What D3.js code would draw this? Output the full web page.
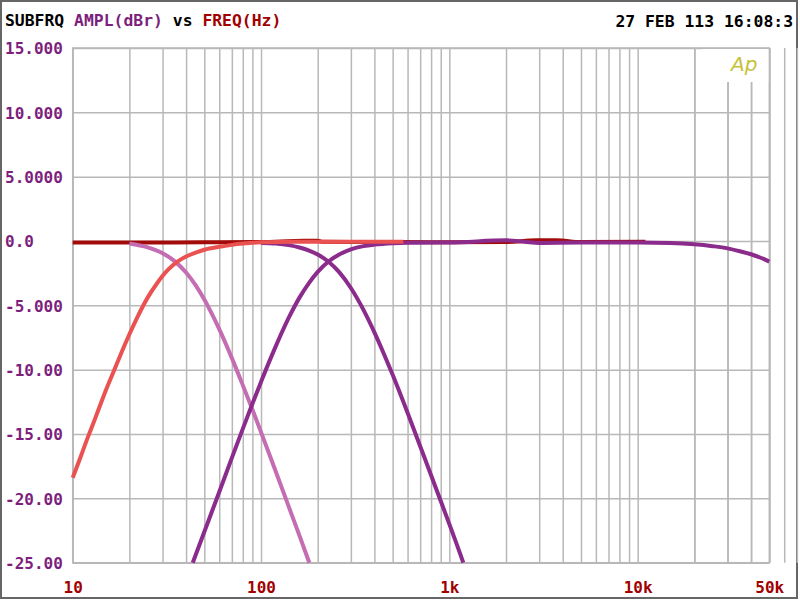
<!DOCTYPE html>
<html>
<head>
<meta charset="utf-8">
<script src="https://cdn.jsdelivr.net/npm/d3@7"></script>
<style>
  html, body { margin: 0; padding: 0; background: #fff; }
  svg { display: block; }
  text { font-family: "DejaVu Sans Mono", "Liberation Mono", monospace; font-weight: bold; }
</style>
</head>
<body>
<svg id="chart" width="800" height="600"></svg>
<script>
// ---------- data ----------
const yTicks = [15, 10, 5, 0, -5, -10, -15, -20, -25];
const yTickLabels = ["15.000", "10.000", "5.0000", "0.0", "-5.000", "-10.00", "-15.00", "-20.00", "-25.00"];
const xTicks = [10, 100, 1000, 10000, 50000];
const xTickLabels = ["10", "100", "1k", "10k", "50k"];

// dark red (flat reference trace)
const darkRedFreq = [10, 20, 50, 100, 170, 200, 210, 500, 1000, 2000, 2900, 3700, 5000, 11000];
const darkRedDb   = [-0.12, -0.12, -0.1, -0.08, 0.02, 0.02, -0.05, -0.08, -0.1, -0.08, 0.06, 0.06, -0.08, -0.06];

// salmon high-pass
const salmonFreq = [10, 11, 12, 13, 14, 15, 16, 18, 20, 22, 25, 28, 32, 36, 40, 45, 50, 60, 70, 80, 100, 150, 200, 300, 400, 570];
const salmonDb   = [-18.4, -16.8, -15.3, -14.0, -12.75, -11.6, -10.6, -8.8, -7.25, -5.95, -4.4, -3.3, -2.25, -1.6, -1.2, -0.9, -0.68, -0.45, -0.3, -0.2, -0.1, -0.05, -0.05, -0.05, -0.05, -0.05];

// mauve low-pass
const mauveFreq = [20, 25, 30, 35, 40, 45, 50, 55, 60, 70, 80, 90, 100, 120, 140, 160, 180.5];
const mauveDb   = [-0.2, -0.5, -0.95, -1.6, -2.45, -3.45, -4.55, -5.7, -6.85, -9.1, -11.2, -13.1, -14.85, -17.95, -20.6, -22.9, -25];

// purple high-pass
const purpleHpFreq = [43.4, 50, 60, 70, 80, 90, 100, 110, 120, 140, 160, 180, 200, 230, 260, 300, 350, 400, 500, 600, 1000, 2000, 2500, 3000, 5000, 10000, 15000, 20000, 25000, 30000, 35000, 40000, 45000, 50000];
const purpleHpDb   = [-25, -22.6, -19.5, -16.85, -14.6, -12.65, -10.95, -9.45, -8.15, -6.0, -4.4, -3.25, -2.4, -1.55, -1.05, -0.65, -0.4, -0.28, -0.17, -0.13, -0.12, 0.05, -0.05, -0.15, -0.12, -0.12, -0.15, -0.25, -0.4, -0.57, -0.8, -1.03, -1.3, -1.6];

// purple low-pass
const purpleLpFreq = [100, 120, 140, 160, 180, 200, 230, 260, 300, 350, 400, 450, 500, 600, 700, 800, 900, 1000, 1100, 1186];
const purpleLpDb   = [-0.15, -0.2, -0.32, -0.5, -0.74, -1.05, -1.65, -2.42, -3.65, -5.35, -7.1, -8.8, -10.4, -13.35, -15.95, -18.2, -20.2, -22.0, -23.65, -25];

// ---------- layout ----------
const svg = d3.select("#chart");
const plotL = 72.7, plotR = 769.3, plotT = 48, plotB = 562.7;
const x = d3.scaleLog().domain([10, 50000]).range([plotL, plotR]);
const y = d3.scaleLinear().domain([-25, 15]).range([plotB, plotT]);

const gridColor = "#b8b8b8";
const yLabelColor = "#7d1f7d";
const xLabelColor = "#a00000";

// outer frame
svg.append("rect").attr("x", 1).attr("y", 1).attr("width", 796).attr("height", 597)
  .attr("fill", "#fff").attr("stroke", "#666").attr("stroke-width", 2);

// vertical grid (every 1-9 x decade)
const gridFreqs = [];
for (let dec = 10; dec <= 10000; dec *= 10) {
  for (let m = 1; m <= 9; m++) gridFreqs.push(m * dec);
}
gridFreqs.push(20000, 30000, 40000, 50000);
const gridX = svg.append("g").attr("transform", `translate(0,${plotB})`)
  .call(d3.axisBottom(x).tickValues(gridFreqs).tickSize(-(plotB - plotT)).tickFormat(""));
gridX.select(".domain").remove();
gridX.selectAll("line").attr("stroke", gridColor).attr("stroke-width", 1.5);

// horizontal grid
const gridY = svg.append("g").attr("transform", `translate(${plotL},0)`)
  .call(d3.axisLeft(y).tickValues(yTicks).tickSize(-(plotR - plotL)).tickFormat(""));
gridY.select(".domain").remove();
gridY.selectAll("line").attr("stroke", gridColor).attr("stroke-width", 1.5);

// plot frame
svg.append("rect").attr("x", plotL).attr("y", plotT).attr("width", plotR - plotL).attr("height", plotB - plotT)
  .attr("fill", "none").attr("stroke", gridColor).attr("stroke-width", 1.5);

// Ap logo box
svg.append("rect").attr("x", 702).attr("y", plotT + 1).attr("width", plotR - 702 - 1).attr("height", 33).attr("fill", "#fff");
svg.append("text").attr("x", 731).attr("y", 71)
  .style("font-family", "'DejaVu Sans', sans-serif").style("font-weight", "normal").style("font-style", "italic")
  .attr("font-size", 20).attr("fill", "#c6c23c").text("Ap");

// y axis labels
const yAxis = svg.append("g").attr("transform", `translate(${plotL},0)`)
  .call(d3.axisLeft(y).tickValues(yTicks).tickSize(0).tickFormat((d, i) => yTickLabels[i]));
yAxis.select(".domain").remove();
yAxis.selectAll("text")
  .attr("x", 5 - plotL).attr("dy", "0.36em").attr("text-anchor", "start")
  .attr("fill", yLabelColor).attr("font-size", 16)
  .style("font-family", "'DejaVu Sans Mono', monospace").style("font-weight", "bold");

// x axis labels
const xAxis = svg.append("g").attr("transform", `translate(0,${plotB})`)
  .call(d3.axisBottom(x).tickValues(xTicks).tickSize(0).tickFormat((d, i) => xTickLabels[i]));
xAxis.select(".domain").remove();
xAxis.selectAll("text")
  .attr("y", 30.5).attr("dy", 0).attr("fill", xLabelColor).attr("font-size", 16)
  .style("font-family", "'DejaVu Sans Mono', monospace").style("font-weight", "bold");

// curves
const line = d3.line().x(d => x(d[0])).y(d => y(d[1])).curve(d3.curveMonotoneX);
function drawSeries(freqs, dbs, color) {
  svg.append("path").datum(freqs.map((f, i) => [f, dbs[i]]))
    .attr("d", line).attr("fill", "none").attr("stroke", color).attr("stroke-width", 4);
}
drawSeries(darkRedFreq, darkRedDb, "#a30a0a");
drawSeries(mauveFreq, mauveDb, "#c46db2");
drawSeries(purpleLpFreq, purpleLpDb, "#8b2b8b");
drawSeries(purpleHpFreq, purpleHpDb, "#8b2b8b");
drawSeries(salmonFreq, salmonDb, "#ea5252");

// header
const header = svg.append("text").attr("x", 5).attr("y", 26).attr("font-size", 16.4)
  .style("font-family", "'DejaVu Sans Mono', monospace").style("font-weight", "bold");
header.append("tspan").attr("fill", "#000").text("SUBFRQ ");
header.append("tspan").attr("fill", "#7d1f7d").text("AMPL(dBr)");
header.append("tspan").attr("fill", "#000").text(" vs ");
header.append("tspan").attr("fill", "#a00000").text("FREQ(Hz)");

svg.append("text").attr("x", 793).attr("y", 26.5).attr("text-anchor", "end").attr("font-size", 16.4)
  .attr("fill", "#000").style("font-family", "'DejaVu Sans Mono', monospace").style("font-weight", "bold")
  .text("27 FEB 113 16:08:3");
</script>
</body>
</html>
